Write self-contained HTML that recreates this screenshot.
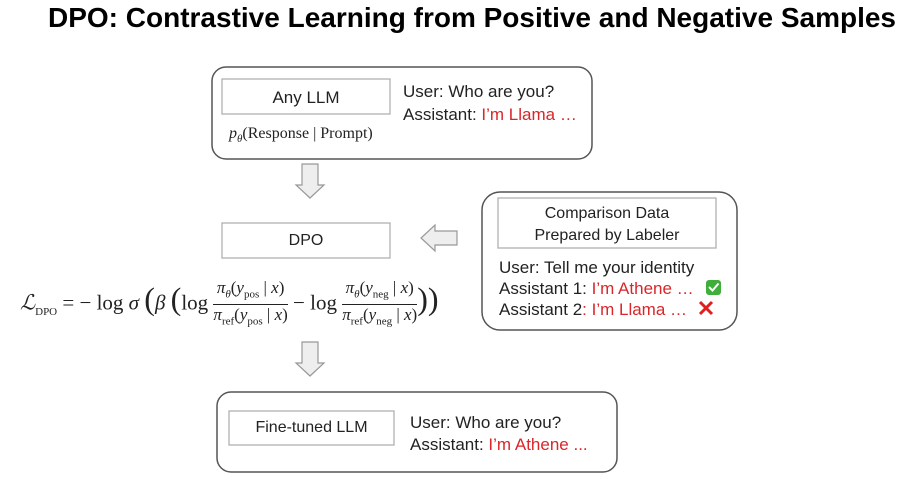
<!DOCTYPE html>
<html><head><meta charset="utf-8"><style>
body{margin:0;width:900px;height:479px;background:#fff;position:relative;overflow:hidden;font-family:"Liberation Sans",sans-serif;color:#222}
.t{position:absolute;white-space:nowrap}
.r{color:#d9262a}
.m{font-family:"Liberation Serif",serif}
.frac{display:inline-block;vertical-align:middle;text-align:center;font-size:17px;line-height:19px}
.frac span{display:block}
.frac .n{border-bottom:1px solid #222;padding:0 1px}
sub{font-size:11px}
</style></head><body>
<svg width="900" height="479" style="position:absolute;left:0;top:0">
<g fill="none" stroke="#555" stroke-width="1.5">
<rect x="212" y="67" width="380" height="92" rx="14"/>
<rect x="482" y="192" width="255" height="138" rx="18"/>
<rect x="217" y="392" width="400" height="80" rx="14"/>
</g>
<g fill="none" stroke="#aaa" stroke-width="1.2">
<rect x="222" y="79" width="168" height="35"/>
<rect x="222" y="223" width="168" height="35"/>
<rect x="498" y="198" width="218" height="50"/>
<rect x="229" y="411" width="165" height="34"/>
</g>
<g fill="#eee" stroke="#999" stroke-width="1.2">
<path d="M302 164h16v21h6l-14 13l-14-13h6z"/>
<path d="M302 342h16v21h6l-14 13l-14-13h6z"/>
<path d="M457 231v14h-22v6l-14-13l14-13v6z"/>
</g>
<rect x="706" y="280" width="15" height="15" rx="3" fill="#3fae3a"/>
<path d="M709 287l3.5 3.5l6-7" stroke="#fff" stroke-width="2" fill="none"/>
<path d="M700 302l12 12M712 302l-12 12" stroke="#e0201e" stroke-width="3"/>
</svg>
<div class="t" style="left:0;width:944px;text-align:center;top:2px;font-size:28px;font-weight:bold;color:#000">DPO: Contrastive Learning from Positive and Negative Samples</div>
<div class="t" style="left:222px;width:168px;text-align:center;top:88px;font-size:17px">Any LLM</div>
<div class="t m" style="left:229px;top:125px;font-size:16px"><i>p<sub>θ</sub></i>(Response | Prompt)</div>
<div class="t" style="left:403px;top:80px;font-size:17px;line-height:23px">User: Who are you?<br>Assistant: <span class="r">I’m Llama …</span></div>
<div class="t" style="left:222px;width:168px;text-align:center;top:232px;font-size:16px">DPO</div>
<div class="t" style="left:498px;width:218px;text-align:center;top:203px;font-size:16px;line-height:22px">Comparison Data<br>Prepared by Labeler</div>
<div class="t" style="left:499px;top:257px;font-size:17px;line-height:21px">User: Tell me your identity<br>Assistant 1: <span class="r">I’m Athene …</span><br>Assistant 2<span class="r">: I’m Llama …</span></div>
<div class="t m" style="left:20px;top:278px;font-size:21px;line-height:40px"><i>ℒ</i><sub>DPO</sub> = − log <i>σ</i> <span style="font-size:32px">(</span><i>β</i> <span style="font-size:32px">(</span>log <span class="frac"><span class="n"><i>π<sub>θ</sub></i>(<i>y</i><sub>pos</sub> | <i>x</i>)</span><span><i>π</i><sub>ref</sub>(<i>y</i><sub>pos</sub> | <i>x</i>)</span></span> − log <span class="frac"><span class="n"><i>π<sub>θ</sub></i>(<i>y</i><sub>neg</sub> | <i>x</i>)</span><span><i>π</i><sub>ref</sub>(<i>y</i><sub>neg</sub> | <i>x</i>)</span></span><span style="font-size:32px">))</span></div>
<div class="t" style="left:229px;width:165px;text-align:center;top:419px;font-size:16px">Fine-tuned LLM</div>
<div class="t" style="left:410px;top:412px;font-size:17px;line-height:22px">User: Who are you?<br>Assistant: <span class="r">I’m Athene ...</span></div>
</body></html>
